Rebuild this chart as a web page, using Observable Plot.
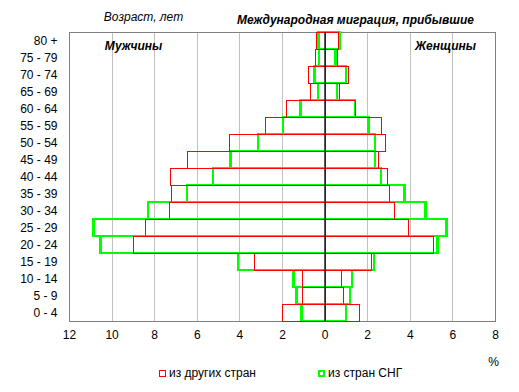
<!DOCTYPE html>
<html><head><meta charset="utf-8">
<script src="https://cdn.jsdelivr.net/npm/d3@7"></script>
<script src="https://cdn.jsdelivr.net/npm/@observablehq/plot@0.6"></script>
<style>
body{margin:0;background:#fff;font-family:"Liberation Sans",Arial,sans-serif}
#chart{position:relative;width:519px;height:392px}
.leg{position:absolute;top:366px;font-size:12px;color:#000;display:flex;align-items:center;white-space:nowrap}
.sw{display:inline-block;box-sizing:border-box;width:7px;height:7px;margin-right:3px}
</style></head><body><div id="chart"></div>
<script>
const ages = ["0 - 4","5 - 9","10 - 14","15 - 19","20 - 24","25 - 29","30 - 34","35 - 39","40 - 44","45 - 49","50 - 54","55 - 59","60 - 64","65 - 69","70 - 74","75 - 79","80 +"];
// Мужчины (левая сторона), %
const maleOther = [1.96,1.02,1.02,3.27,8.95,8.39,7.26,7.17,7.22,6.42,4.47,2.79,1.80,0.67,0.74,0.41,0.36];
const maleCIS   = [1.09,1.33,1.46,4.07,10.53,10.85,8.28,6.45,5.23,4.41,3.13,1.96,1.13,0.31,0.47,0.27,0.28];
// Женщины (правая сторона), %
const femaleOther = [1.62,0.87,0.78,2.20,5.10,3.96,3.26,3.07,2.93,2.54,2.86,2.65,1.47,0.69,1.11,0.59,0.63];
const femaleCIS   = [1.00,1.19,1.28,2.32,5.31,5.73,4.74,3.76,2.64,2.37,2.37,2.06,1.42,0.58,1.00,0.50,0.72];
const xTicks = [-12,-10,-8,-6,-4,-2,0,2,4,6,8];
const gridTicks = [-10,-8,-6,-4,-2,2,4,6];
const seriesNames = ["из других стран","из стран СНГ"];

const rows = ages.map((a,i)=>({age:a, mo:maleOther[i], mc:maleCIS[i], fo:femaleOther[i], fc:femaleCIS[i]}));

const font = "Liberation Sans, Arial, sans-serif";
const plot = Plot.plot({
  width:519, height:392,
  marginLeft:69, marginRight:24, marginTop:32, marginBottom:71,
  style:{fontFamily:font, fontSize:"12px", color:"#000", background:"#fff", overflow:"visible"},
  x:{domain:[-12,8], ticks:xTicks, tickFormat:d=>Math.abs(d), tickSize:0, tickPadding:9, label:null, line:true},
  y:{domain:ages.slice().reverse(), padding:0, tickSize:0, tickPadding:12, label:null},
  marks:[
    Plot.ruleX(gridTicks, {stroke:"#c0c0c0", strokeWidth:1, shapeRendering:"crispEdges"}),
    Plot.frame({stroke:"#808080", strokeWidth:1, shapeRendering:"crispEdges"}),
    Plot.barX(rows, {y:"age", x1:d=>-d.mc, x2:"fc", fill:"none", stroke:"#00ff00", strokeWidth:2.5, shapeRendering:"crispEdges"}),
    Plot.barX(rows, {y:"age", x1:d=>-d.mo, x2:"fo", fill:"none", stroke:"#ff0000", strokeWidth:1, shapeRendering:"crispEdges"}),
    Plot.ruleX([0], {stroke:"#000", strokeWidth:1.5}),
    Plot.text(["Международная миграция, прибывшие"], {text:d=>d, frameAnchor:"top-left", dx:286, dy:-12, textAnchor:"middle", lineAnchor:"middle", fontWeight:"bold", fontStyle:"italic", fontSize:12}),
    Plot.text(["Возраст, лет"], {text:d=>d, frameAnchor:"top-left", dx:74, dy:-15, textAnchor:"middle", lineAnchor:"middle", fontStyle:"italic", fontSize:12}),
    Plot.text(["Мужчины"], {text:d=>d, frameAnchor:"top-left", dx:64, dy:14, textAnchor:"middle", lineAnchor:"middle", fontWeight:"bold", fontStyle:"italic", fontSize:12}),
    Plot.text(["Женщины"], {text:d=>d, frameAnchor:"top-left", dx:376, dy:14, textAnchor:"middle", lineAnchor:"middle", fontWeight:"bold", fontStyle:"italic", fontSize:12}),
    Plot.text(["%"], {text:d=>d, frameAnchor:"top-left", dx:424, dy:330, textAnchor:"middle", lineAnchor:"middle", fontSize:12})
  ]
});
const chart = document.getElementById("chart");
chart.appendChild(plot);
const leg1 = document.createElement("div");
leg1.className = "leg"; leg1.style.left = "159px";
leg1.innerHTML = `<span class="sw" style="border:1px solid #ff0000"></span>${seriesNames[0]}`;
const leg2 = document.createElement("div");
leg2.className = "leg"; leg2.style.left = "318px";
leg2.innerHTML = `<span class="sw" style="border:2px solid #00ff00"></span>${seriesNames[1]}`;
chart.appendChild(leg1); chart.appendChild(leg2);
</script>
</body></html>
